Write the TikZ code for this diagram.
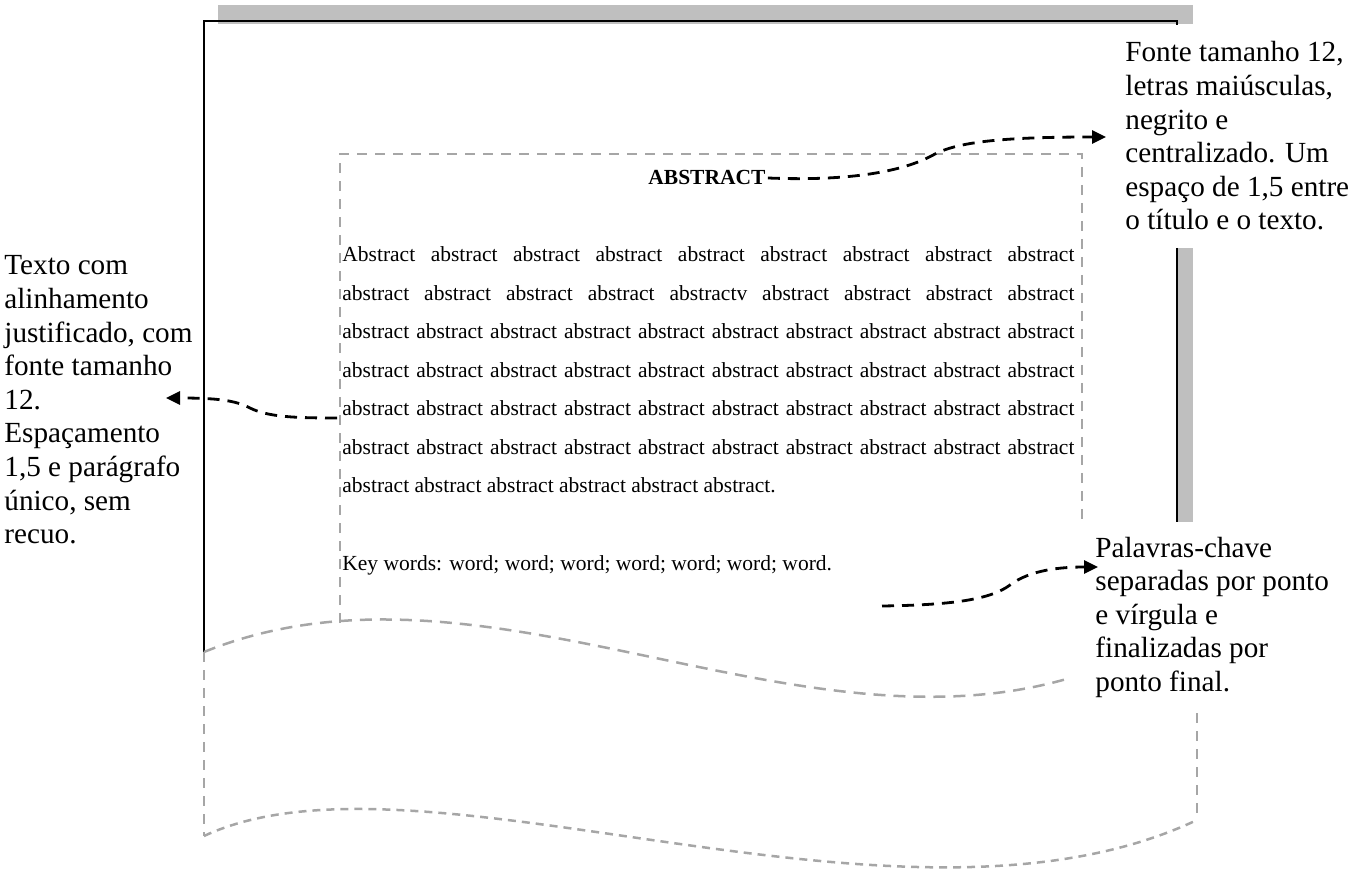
\documentclass[tikz,border=0pt]{standalone}
\usepackage{fontspec}
\setmainfont{Liberation Serif}
\usetikzlibrary{arrows.meta}
\begin{document}
\begin{tikzpicture}[x=0.5pt,y=-0.5pt,
  pageedge/.style={line width=1.4pt,black},
  shadowfill/.style={fill=black!25},
  guide/.style={draw=black!35,line width=1.25pt,dash pattern=on 5pt off 4pt},
  waveguide/.style={draw=black!35,line width=1.25pt,dash pattern=on 6pt off 4pt},
  fineguide/.style={draw=black!35,line width=1.25pt,dash pattern=on 4pt off 3pt},
  pointer/.style={draw=black,line width=1.4pt,dash pattern=on 6pt off 4pt,
    -{Triangle[length=7pt,width=6.5pt]}},
  note/.style={anchor=base west,inner sep=0pt},
  bodytext/.style={anchor=base west,inner sep=0pt,font=\fontsize{10.75pt}{19.25pt}\selectfont},
]
\useasboundingbox (0,0) rectangle (1371,871);

% shadow of the sheet
\fill[shadowfill] (218,5) rectangle (1193,24);
\fill[shadowfill] (1177,248) rectangle (1193,522);

% sheet edges
\draw[pageedge] (204,652) -- (204,21) -- (1177,21) -- (1177,25);
\draw[pageedge] (1177,248) -- (1177,522);

% text area of the sheet
\draw[guide] (340,623) -- (340,154) -- (1082,154) -- (1082,522);

% torn edges of the sheet
\draw[waveguide] (204,652) .. controls (480,540) and (790,760) .. (1070,678);
\draw[guide] (204,652) -- (204,836);
\draw[guide] (1197,713) -- (1197,820);
\draw[fineguide] (204,836) .. controls (420,735) and (900,960) .. (1197,820);

% contents of the sheet
\node[bodytext,font=\fontsize{10.75pt}{19.25pt}\selectfont\bfseries] (abs) at (648,185) {ABSTRACT};

\node[bodytext] (body) at (342,262) {\parbox[t]{366pt}{\fontsize{10.75pt}{19.25pt}\selectfont
\makebox[\linewidth][s]{Abstract abstract abstract abstract abstract abstract abstract abstract abstract}\\
\makebox[\linewidth][s]{abstract abstract abstract abstract abstractv abstract abstract abstract abstract}\\
\makebox[\linewidth][s]{abstract abstract abstract abstract abstract abstract abstract abstract abstract abstract}\\
\makebox[\linewidth][s]{abstract abstract abstract abstract abstract abstract abstract abstract abstract abstract}\\
\makebox[\linewidth][s]{abstract abstract abstract abstract abstract abstract abstract abstract abstract abstract}\\
\makebox[\linewidth][s]{abstract abstract abstract abstract abstract abstract abstract abstract abstract abstract}\\
abstract abstract abstract abstract abstract abstract.}};

\node[bodytext] (kw) at (342,570) {Key words: word; word; word; word; word; word; word.};

% side notes
\node[note] (notetop) at (1125,62) {\parbox[t]{130pt}{\raggedright\fontsize{14.6pt}{16.8pt}\selectfont
Fonte tamanho 12,\\ letras maiúsculas,\\ negrito e\\ centralizado. Um\\ espaço de 1,5 entre\\ o título e o texto.}};

\node[note] (noteleft) at (4,275) {\parbox[t]{110pt}{\raggedright\fontsize{14.6pt}{16.8pt}\selectfont
Texto com\\ alinhamento\\ justificado, com\\ fonte tamanho\\ 12.\\ Espaçamento\\ 1,5 e parágrafo\\ único, sem\\ recuo.}};

\node[note] (notekw) at (1095,557) {\parbox[t]{140pt}{\raggedright\fontsize{14.6pt}{16.8pt}\selectfont
Palavras-chave\\ separadas por ponto\\ e vírgula e\\ finalizadas por\\ ponto final.}};

% pointers
\coordinate (tipA) at (1106,137);
\coordinate (srcL) at (337,418);
\coordinate (tipL) at (166,398);
\coordinate (srcK) at (882,606);
\coordinate (tipK) at (1098,567);

\draw[pointer] ([xshift=1pt]abs.east) .. controls (840,181) and (900,174) .. (935,154)
  .. controls (960,141) and (1010,137) .. (tipA);
\draw[pointer] (srcL) .. controls (295,418) and (268,417) .. (250,408)
  .. controls (235,400) and (215,398) .. (tipL);
\draw[pointer] (srcK) .. controls (950,605) and (990,600) .. (1010,585)
  .. controls (1030,570) and (1060,567) .. (tipK);
\end{tikzpicture}
\end{document}
